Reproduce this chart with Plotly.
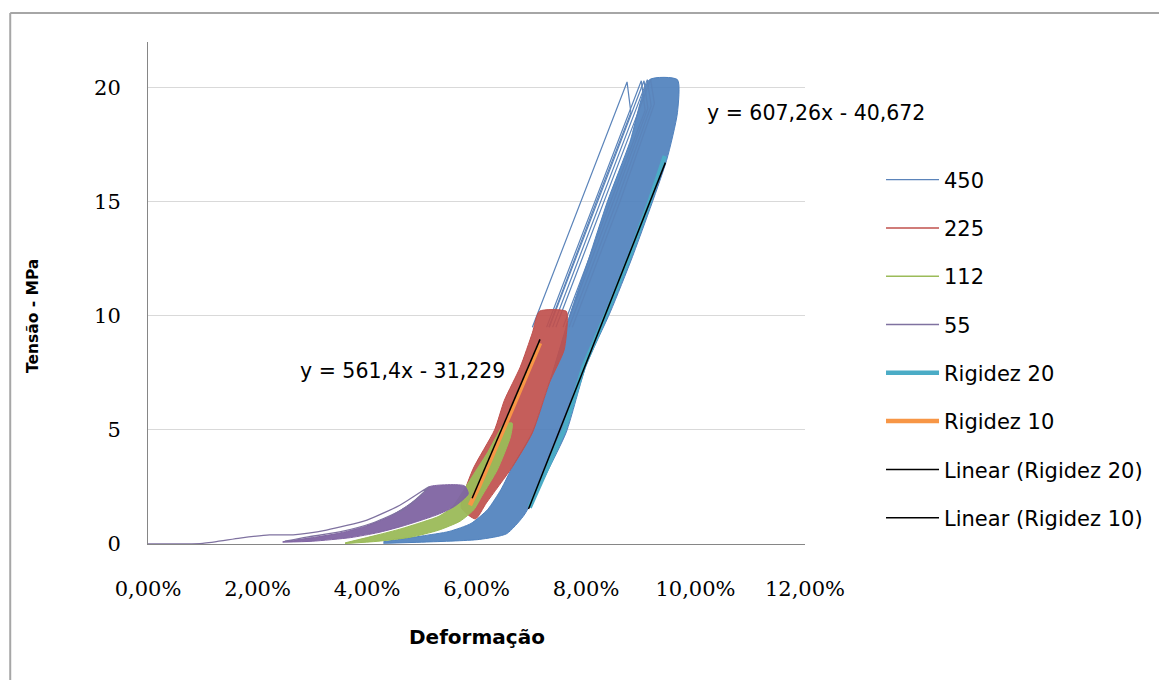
import plotly.graph_objects as go

# ---------------- data (strain in %, stress in MPa) ----------------
x_ticks = [0, 2, 4, 6, 8, 10, 12]
x_ticklabels = ["0,00%", "2,00%", "4,00%", "6,00%", "8,00%", "10,00%", "12,00%"]
y_ticks = [0, 5, 10, 15, 20]

# 450 : dense band of cycles (outline)
band450_x = [4.30, 5.00, 5.50, 5.90, 6.20, 6.45, 6.66, 7.02, 7.33, 7.70, 8.05, 8.39, 8.80, 9.16,
             9.67, 9.67, 9.47, 8.85, 8.45, 8.00, 7.64, 7.30, 7.05, 6.85, 6.55, 6.05, 5.00, 4.30]
band450_y = [0.10, 0.35, 0.55, 0.90, 1.50, 2.40, 3.40, 4.90, 7.06, 10.0, 12.5, 15.0, 17.6, 20.35,
             20.35, 18.9, 16.8, 12.6, 10.2, 7.8, 4.9, 3.2, 2.0, 1.2, 0.45, 0.20, 0.08, 0.03]
# 450 : first (separate) cycles
out450_x = [[7.02, 7.90, 8.75, 8.82, 8.19, 7.32],
            [7.28, 8.16, 9.01, 9.08, 8.45, 7.58],
            [7.33, 8.21, 9.06, 9.13, 8.50, 7.63],
            [7.39, 8.27, 9.12, 9.19, 8.56, 7.69],
            [7.45, 8.33, 9.18, 9.25, 8.62, 7.75]]
out450_y = [[9.5, 15.0, 20.25, 18.9, 15.0, 9.5],
            [9.5, 15.0, 20.30, 19.0, 15.0, 9.5],
            [9.5, 15.0, 20.30, 19.1, 15.0, 9.5],
            [9.5, 15.0, 20.35, 19.2, 15.0, 9.5],
            [9.5, 15.0, 20.35, 19.3, 15.0, 9.5]]

# 225
band225_x = [5.72, 5.93, 6.33, 6.51, 6.80, 7.02, 7.15,
             7.64, 7.66, 7.60, 7.33, 7.02, 6.66, 6.18, 5.98, 5.72]
band225_y = [1.60, 3.25, 5.00, 6.30, 7.76, 9.25, 10.20,
             10.20, 9.80, 8.50, 7.06, 4.87, 3.40, 1.80, 1.10, 1.60]

# 112
band112_x = [3.60, 4.20, 4.60, 5.00, 5.30, 5.55, 5.75, 6.00, 6.20, 6.36, 6.50,
             6.65, 6.62, 6.38, 6.11, 5.95, 5.70, 5.30, 4.80, 4.20, 3.60]
band112_y = [0.05, 0.40, 0.65, 0.95, 1.20, 1.60, 2.30, 3.25, 4.00, 4.70, 5.25,
             5.30, 4.70, 3.25, 2.15, 1.50, 1.00, 0.60, 0.30, 0.12, 0.02]

# 55
band55_x = [2.46, 3.00, 3.50, 4.00, 4.41, 4.75, 5.02, 5.15,
            5.78, 5.85, 5.60, 5.30, 5.00, 4.60, 4.20, 3.70, 3.00, 2.46]
band55_y = [0.10, 0.28, 0.48, 0.80, 1.20, 1.70, 2.20, 2.52,
            2.55, 2.20, 1.65, 1.30, 1.05, 0.75, 0.50, 0.28, 0.12, 0.08]
first55_x = [0.00, 1.00, 1.68, 2.22, 2.65, 3.26, 4.00, 4.60, 5.09, 5.14,
             4.72, 4.10, 3.50, 2.90, 2.50]
first55_y = [0.00, 0.03, 0.26, 0.40, 0.40, 0.61, 1.05, 1.70, 2.45, 2.52,
             1.60, 0.92, 0.53, 0.30, 0.12]

# Rigidez 20 / Rigidez 10 loading branches
rig20_x = [6.97, 7.26, 7.60, 7.96, 8.41, 8.81, 9.16, 9.44]
rig20_y = [1.6, 3.2, 5.0, 7.8, 10.3, 12.7, 15.0, 17.0]
rig10_x = [5.88, 6.05, 6.30, 6.60, 6.90, 7.16]
rig10_y = [1.70, 2.55, 3.95, 5.65, 7.35, 8.80]

# linear trendlines (equations shown on the chart, x as strain fraction)
lin20_coef = (607.26, -40.672)
lin20_xrange = [6.95, 9.45]
lin10_coef = (561.4, -31.229)
lin10_xrange = [5.92, 7.16]

eq20_text = "y = 607,26x - 40,672"
eq10_text = "y = 561,4x - 31,229"

# ---------------- styling ----------------
C450, C225, C112, C55 = "#4F81BD", "#C0504D", "#9BBB59", "#8064A2"
CR20, CR10 = "#4BACC6", "#F79646"
SANS = "DejaVu Sans, Verdana, sans-serif"
SERIF = "DejaVu Serif, Liberation Serif, serif"

fig = go.Figure()


def legend_only(name, color, width, group):
    fig.add_trace(go.Scatter(x=[None], y=[None], mode="lines", name=name,
                             legendgroup=group, line=dict(color=color, width=width)))


def band(x, y, color, fill, group):
    fig.add_trace(go.Scatter(x=x, y=y, mode="lines", fill="toself", fillcolor=fill,
                             line=dict(color=color, width=1, shape="spline", smoothing=0.6),
                             showlegend=False, legendgroup=group, hoverinfo="skip"))


# 450
band(band450_x, band450_y, C450, "rgba(79,129,189,0.92)", "g450")
ox, oy = [], []
for lx, ly in zip(out450_x, out450_y):
    ox += lx + [None]
    oy += ly + [None]
fig.add_trace(go.Scatter(x=ox, y=oy, mode="lines", name="450", legendgroup="g450",
                         line=dict(color="#5b84ba", width=1.2)))
# 225
band(band225_x, band225_y, C225, "rgba(192,80,77,0.92)", "g225")
legend_only("225", C225, 1.5, "g225")
# 112
band(band112_x, band112_y, C112, "rgba(155,187,89,0.95)", "g112")
legend_only("112", C112, 1.5, "g112")
# 55
band(band55_x, band55_y, C55, "rgba(128,100,162,0.95)", "g55")
fig.add_trace(go.Scatter(x=first55_x, y=first55_y, mode="lines", name="55", legendgroup="g55",
                         line=dict(color="#7f72a0", width=1.3, shape="spline", smoothing=0.6)))
# Rigidez
fig.add_trace(go.Scatter(x=rig20_x, y=rig20_y, mode="lines", name="Rigidez 20", legendgroup="gr20",
                         line=dict(color=CR20, width=4.5)))
fig.add_trace(go.Scatter(x=rig10_x, y=rig10_y, mode="lines", name="Rigidez 10", legendgroup="gr10",
                         line=dict(color=CR10, width=4.5)))
# trendlines
for name, coef, xr, grp in [("Linear (Rigidez 20)", lin20_coef, lin20_xrange, "gl20"),
                            ("Linear (Rigidez 10)", lin10_coef, lin10_xrange, "gl10")]:
    ty = [coef[0] * v / 100.0 + coef[1] for v in xr]
    fig.add_trace(go.Scatter(x=xr, y=ty, mode="lines", name=name, legendgroup=grp,
                             line=dict(color="black", width=1.5)))

# equations
fig.add_annotation(x=10.18, y=18.9, text=eq20_text, showarrow=False, xanchor="left",
                   yanchor="middle", font=dict(family=SANS, size=20.5, color="#000"))
fig.add_annotation(x=2.74, y=7.59, text=eq10_text, showarrow=False, xanchor="left",
                   yanchor="middle", font=dict(family=SANS, size=20.5, color="#000"))

# axis titles
fig.add_annotation(xref="paper", yref="paper", x=0.5, y=-0.185, text="<b>Deformação</b>",
                   showarrow=False, xanchor="center", yanchor="middle",
                   font=dict(family=SANS, size=20, color="#000"))
fig.add_annotation(xref="paper", yref="paper", x=-0.175, y=0.454, text="<b>Tensão - MPa</b>",
                   showarrow=False, textangle=-90, xanchor="center", yanchor="middle",
                   font=dict(family=SANS, size=15.5, color="#000"))

# outer frame (left and top edges visible)
fig.add_shape(type="line", xref="paper", yref="paper", x0=-0.2097, y0=-0.3, x1=-0.2097, y1=1.0578,
              line=dict(color="#a6a6a6", width=2))
fig.add_shape(type="line", xref="paper", yref="paper", x0=-0.2097, y0=1.0578, x1=1.6, y1=1.0578,
              line=dict(color="#a6a6a6", width=2))

fig.update_layout(
    width=1159, height=680,
    margin=dict(l=148, r=353, t=42, b=136, pad=0),
    paper_bgcolor="white", plot_bgcolor="white",
    showlegend=True,
    legend=dict(x=1.114, y=0.766, xanchor="left", yanchor="top",
                traceorder="grouped", tracegroupgap=18, itemwidth=53,
                font=dict(family=SANS, size=21, color="#000"),
                bgcolor="rgba(0,0,0,0)"),
    xaxis=dict(range=[0, 12], tickvals=x_ticks, ticktext=x_ticklabels,
               showgrid=False, zeroline=False, showline=True, linecolor="#868686", linewidth=1,
               ticks="outside", ticklen=26, tickcolor="rgba(0,0,0,0)",
               tickfont=dict(family=SERIF, size=21, color="#000"), fixedrange=True),
    yaxis=dict(range=[0, 22], tickvals=y_ticks, showgrid=True, gridcolor="#d9d9d9", gridwidth=1,
               zeroline=False, showline=True, linecolor="#868686", linewidth=1,
               ticks="outside", ticklen=22, tickcolor="rgba(0,0,0,0)",
               tickfont=dict(family=SERIF, size=21, color="#000"), fixedrange=True),
)

fig.write_html("out.html", config={"displayModeBar": False},
               post_script="document.body.style.margin='0';")
